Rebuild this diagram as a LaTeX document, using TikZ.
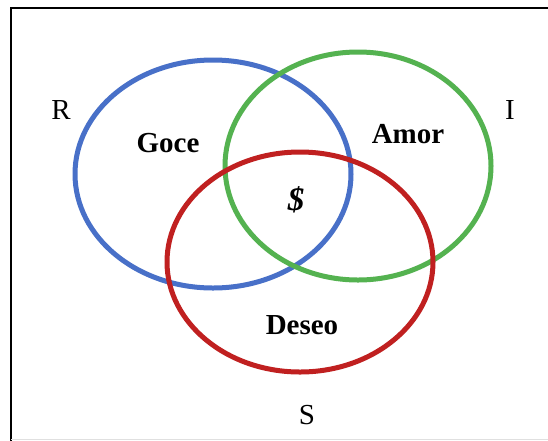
\documentclass[tikz,border=0pt]{standalone}
\usepackage{fontspec}
\setmainfont{Liberation Serif}
\definecolor{ringblue}{RGB}{72,112,200}
\definecolor{ringgreen}{RGB}{84,178,80}
\definecolor{ringred}{RGB}{192,32,32}
\begin{document}
\begin{tikzpicture}[x=1pt,y=-1pt,
  ring/.style={line width=5pt},
  regiontag/.style={font=\fontsize{29}{32}\selectfont},
  ringtag/.style={font=\fontsize{29}{32}\selectfont\bfseries}]
\useasboundingbox (0,0) rectangle (548,440);
\fill[white] (0,0) rectangle (548,440);
% frame
\draw[line width=2.4pt, line cap=rect] (11,440) -- (11,8) -- (548,8);
\draw[black!12, line width=0.8pt] (11,439) -- (548,439);
% the three rings
\draw[ring, ringblue]  (213,174) ellipse [x radius=138pt, y radius=114pt];
\draw[ring, ringgreen] (358,166) ellipse [x radius=133pt, y radius=114pt];
\draw[ring, ringred]   (300,262) ellipse [x radius=133pt, y radius=110pt];
% labels
\node[regiontag] (r) at (61,110) {R};
\node[regiontag] (i) at (510,110) {I};
\node[regiontag] (s) at (307,415) {S};
\node[ringtag] (goce)  at (168,143) {Goce};
\node[ringtag] (amor)  at (408,134) {Amor};
\node[ringtag] (deseo) at (302,325) {Deseo};
\node[font=\fontsize{33}{36}\selectfont\bfseries\itshape] (sujeto) at (296,200) {\$};
\end{tikzpicture}
\end{document}
